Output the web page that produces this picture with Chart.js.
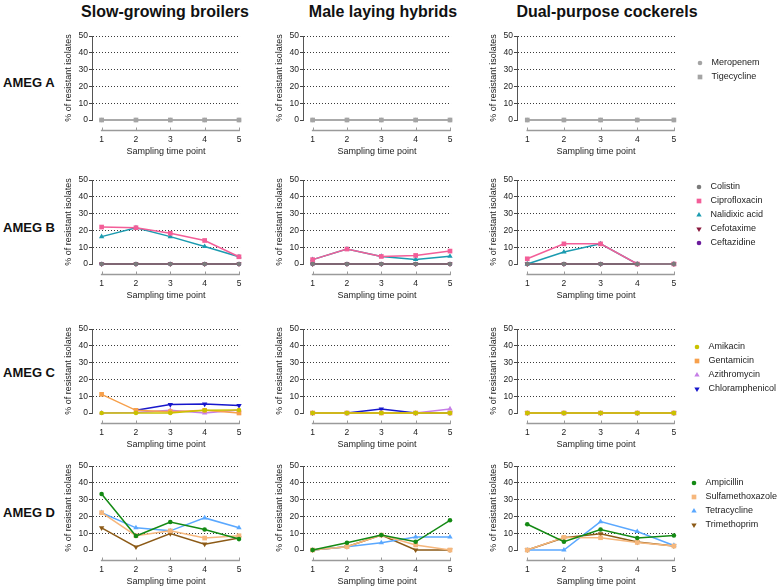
<!DOCTYPE html>
<html>
<head>
<meta charset="utf-8">
<script src="https://cdn.jsdelivr.net/npm/chart.js@4.4.1/dist/chart.umd.min.js"></script>
<style>
  body { margin: 0; width: 777px; height: 587px; position: relative; overflow: hidden; background: #fff;
         font-family: "Liberation Sans", Arial, sans-serif; color: #111; }
  canvas { position: absolute; }
  .coltitle { position: absolute; top: 2px; width: 260px; text-align: center; font-weight: bold;
              font-size: 17px; line-height: 20px; transform: scaleX(0.94); }
  .rowlabel { position: absolute; left: 3px; font-weight: bold; font-size: 13px; line-height: 16px; }
</style>
</head>
<body>
<script>
// shared axis values
const timePoints = [1, 2, 3, 4, 5];
const groups = ["Slow-growing broilers", "Male laying hybrids", "Dual-purpose cockerels"];
const rowNames = ["AMEG A", "AMEG B", "AMEG C", "AMEG D"];
const yTicks = [0, 10, 20, 30, 40, 50];

// AMEG A  (one array per group: broilers, laying hybrids, cockerels)
const meropenem   = [[0, 0, 0, 0, 0], [0, 0, 0, 0, 0], [0, 0, 0, 0, 0]];
const tigecycline = [[0, 0, 0, 0, 0], [0, 0, 0, 0, 0], [0, 0, 0, 0, 0]];

// AMEG B
const colistin      = [[0, 0, 0, 0, 0], [0, 0, 0, 0, 0], [0, 0, 0, 0, 0]];
const ciprofloxacin = [[22, 21.6, 18.3, 14, 4.3], [2.6, 8.9, 4.5, 5.1, 7.7], [3.1, 12, 12, 0, 0]];
const nalidixicAcid = [[16.3, 21.5, 16.3, 10.4, 4.3], [2.6, 8.9, 4.5, 2.7, 4.6], [0, 7.1, 12, 0, 0]];
const cefotaxime    = [[0, 0, 0, 0, 0], [0, 0, 0, 0, 0], [0, 0, 0, 0, 0]];
const ceftazidine   = [[0, 0, 0, 0, 0], [0, 0, 0, 0, 0], [0, 0, 0, 0, 0]];

// AMEG C
const amikacin        = [[0, 0, 0, 1.6, 1.8], [0, 0, 0, 0, 0], [0, 0, 0, 0, 0]];
const gentamicin      = [[11.1, 1.6, 0.8, 1.6, 0], [0, 0, 0, 0, 0], [0, 0, 0, 0, 0]];
const azithromycin    = [[0, 0.3, 1.6, 0, 1.8], [0, 0, 0, 0, 2.4], [0, 0, 0, 0, 0]];
const chloramphenicol = [[null, 1.6, 5, 5.3, 4.4], [0, 0, 2.4, 0, 0], [0, 0, 0, 0, 0]];

// AMEG D
const ampicillin       = [[33.3, 8.3, 16.7, 12.2, 6.5], [0, 4.3, 8.9, 4.9, 17.7], [15.3, 4.9, 12.2, 7.1, 8.6]];
const sulfamethoxazole = [[22.2, 8.5, 11.4, 7.1, 8.5], [0, 2, 8.9, 3, 0], [0, 7.5, 7.3, 4.5, 2.4]];
const tetracycline     = [[22.2, 13.2, 11.4, 19.1, 13.2], [0, 2, 4.3, 7.7, 7.7], [0, 0, 16.9, 11, 2.7]];
const trimethoprim     = [[13.2, 1.8, 9.8, 3.5, 7.1], [0, 2, 8.9, 0, 0], [0, 7.3, 9.6, 4.7, 2.4]];

const rows = [
  [
    { name: "Meropenem", values: meropenem, color: "#a4a4a4", style: "circle" },
    { name: "Tigecycline", values: tigecycline, color: "#a4a4a4", style: "rect" },
  ],
  [
    { name: "Colistin", values: colistin, color: "#7b7b7b", style: "circle" },
    { name: "Ciprofloxacin", values: ciprofloxacin, color: "#f35e98", style: "rect" },
    { name: "Nalidixic acid", values: nalidixicAcid, color: "#1b9bb0", style: "triangle" },
    { name: "Cefotaxime", values: cefotaxime, color: "#8a1a3e", style: "triangle", rot: 180 },
    { name: "Ceftazidine", values: ceftazidine, color: "#6b1c9c", style: "circle" },
  ],
  [
    { name: "Amikacin", values: amikacin, color: "#c9c200", style: "circle" },
    { name: "Gentamicin", values: gentamicin, color: "#f7a04b", style: "rect" },
    { name: "Azithromycin", values: azithromycin, color: "#c57ee6", style: "triangle" },
    { name: "Chloramphenicol", values: chloramphenicol, color: "#1717cc", style: "triangle", rot: 180 },
  ],
  [
    { name: "Ampicillin", values: ampicillin, color: "#148a14", style: "circle" },
    { name: "Sulfamethoxazole", values: sulfamethoxazole, color: "#f6b77c", style: "rect" },
    { name: "Tetracycline", values: tetracycline, color: "#5aa8ff", style: "triangle" },
    { name: "Trimethoprim", values: trimethoprim, color: "#8c5a16", style: "triangle", rot: 180 },
  ],
];

// layout (page pixels)
const panelLeft = [92, 303, 517];
const panelTop = [36, 180, 329, 466];
const titleCenter = [165, 383, 607];
const rowLabelY = [83, 228, 373, 513];
const legendX = [700, 699, 697, 694];
const legendY = [63, 187, 347, 483];
const plotW = 158, plotH = 84, axisW = 52, axisH = 40, padTop = 8;
// symbol radius per shape so that the shapes look the same size
const symbolSize = { circle: 2.3, rect: 3.3, triangle: 3.1 };

Chart.defaults.font.family = '"Liberation Sans", Arial, sans-serif';
Chart.defaults.color = "#222";

function marker(ctx, style, rot, x, y, r) {
  if (Chart.helpers && Chart.helpers.drawPoint) {
    Chart.helpers.drawPoint(ctx, { pointStyle: style, rotation: rot || 0, radius: r, borderWidth: 0 }, x, y);
    return;
  }
  ctx.beginPath();
  if (style === "circle") ctx.arc(x, y, r, 0, Math.PI * 2);
  else if (style === "rect") { const s = r * Math.SQRT1_2; ctx.rect(x - s, y - s, 2 * s, 2 * s); }
  else {
    let a = (rot || 0) * Math.PI / 180;
    for (let k = 0; k < 3; k++) {
      const px = x + Math.sin(a) * r, py = y - Math.cos(a) * r;
      k ? ctx.lineTo(px, py) : ctx.moveTo(px, py);
      a += 2 * Math.PI / 3;
    }
    ctx.closePath();
  }
  ctx.fill();
}

// detached x axis under the 0 line, only from first to last time point
const offsetAxis = {
  id: "offsetAxis",
  afterDraw(chart) {
    const { ctx, scales: { x, y } } = chart;
    const base = y.getPixelForValue(0) + 10.5;
    ctx.save();
    ctx.strokeStyle = "#9a9a9a";
    ctx.lineWidth = 1.5;
    ctx.beginPath();
    ctx.moveTo(x.getPixelForValue(timePoints[0]) - 0.75, base);
    ctx.lineTo(x.getPixelForValue(timePoints[timePoints.length - 1]) + 0.75, base);
    ctx.stroke();
    ctx.lineWidth = 1;
    ctx.beginPath();
    timePoints.forEach(t => {
      const px = Math.round(x.getPixelForValue(t)) + 0.5;
      ctx.moveTo(px, base - 3);
      ctx.lineTo(px, base + 0.5);
    });
    ctx.stroke();
    ctx.restore();
  }
};

const sideLegend = {
  id: "sideLegend",
  afterDraw(chart, args, opts) {
    if (!opts.show) return;
    const ctx = chart.ctx;
    ctx.save();
    chart.data.datasets.forEach((ds, i) => {
      const y = opts.y + i * 14;
      ctx.fillStyle = ds.borderColor;
      marker(ctx, ds.pointStyle, ds.pointRotation, opts.x, y, ds.pointRadius);
      ctx.fillStyle = "#222";
      ctx.font = '9px "Liberation Sans", Arial, sans-serif';
      ctx.textBaseline = "middle";
      ctx.textAlign = "left";
      ctx.fillText(ds.label, opts.x + 11.5, y);
    });
    ctx.restore();
  }
};

groups.forEach((g, c) => {
  const d = document.createElement("div");
  d.className = "coltitle";
  d.style.left = (titleCenter[c] - 130) + "px";
  d.textContent = g;
  document.body.appendChild(d);
});
rowNames.forEach((n, r) => {
  const d = document.createElement("div");
  d.className = "rowlabel";
  d.style.top = (rowLabelY[r] - 8) + "px";
  d.textContent = n;
  document.body.appendChild(d);
});

rows.forEach((series, r) => {
  groups.forEach((g, c) => {
    const last = c === groups.length - 1;
    const left = panelLeft[c] - axisW;
    const top = panelTop[r] - padTop;
    const w = last ? 777 - left : axisW + plotW + 6;
    const h = padTop + plotH + axisH;
    const cv = document.createElement("canvas");
    cv.width = w; cv.height = h;
    cv.style.left = left + "px"; cv.style.top = top + "px";
    cv.style.width = w + "px"; cv.style.height = h + "px";
    document.body.appendChild(cv);

    new Chart(cv.getContext("2d"), {
      type: "line",
      data: {
        datasets: series.map(s => ({
          label: s.name,
          data: timePoints.map((t, i) => ({ x: t, y: s.values[c][i] })),
          borderColor: s.color,
          backgroundColor: s.color,
          pointBackgroundColor: s.color,
          pointBorderWidth: 0,
          pointStyle: s.style,
          pointRotation: s.rot || 0,
          pointRadius: symbolSize[s.style],
          borderWidth: 1.5,
          tension: 0,
          clip: false,
        })),
      },
      options: {
        responsive: false,
        maintainAspectRatio: false,
        animation: false,
        events: [],
        layout: { padding: { top: padTop, left: 0, bottom: 0, right: w - axisW - plotW } },
        plugins: {
          legend: { display: false },
          tooltip: { enabled: false },
          sideLegend: { show: last, x: legendX[r] - left, y: legendY[r] - top },
        },
        scales: {
          x: {
            type: "linear",
            min: 0.72,
            max: 5.03,
            afterFit: s => { s.height = axisH; },
            afterBuildTicks: s => { s.ticks = timePoints.map(v => ({ value: v })); },
            ticks: { stepSize: 1, includeBounds: false, padding: 14.6, font: { size: 8.5 }, color: "#222" },
            grid: { display: false, drawTicks: false },
            border: { display: false },
            title: { display: true, text: "Sampling time point", font: { size: 9 }, color: "#222",
                     padding: { top: 0, bottom: 2.6 } },
          },
          y: {
            min: 0,
            max: 50,
            afterFit: s => { s.width = axisW; },
            afterBuildTicks: s => { s.ticks = yTicks.map(v => ({ value: v })); },
            ticks: { padding: 1, font: { size: 8.5 }, color: "#222" },
            grid: {
              color: ctx => (ctx.tick && ctx.tick.value === 0 ? "rgba(0,0,0,0)" : "#3a3a3a"),
              lineWidth: 1,
              borderDash: [1, 2],
              tickColor: "#444",
              tickBorderDash: [],
              tickLength: 3,
            },
            border: { display: true, color: "#555", width: 1, dash: [1, 2] },
            title: { display: true, text: "% of resistant isolates", font: { size: 9 }, color: "#222",
                     padding: { top: 23.6, bottom: 0 } },
          },
        },
      },
      plugins: [offsetAxis, sideLegend],
    });
  });
});
</script>
</body>
</html>
